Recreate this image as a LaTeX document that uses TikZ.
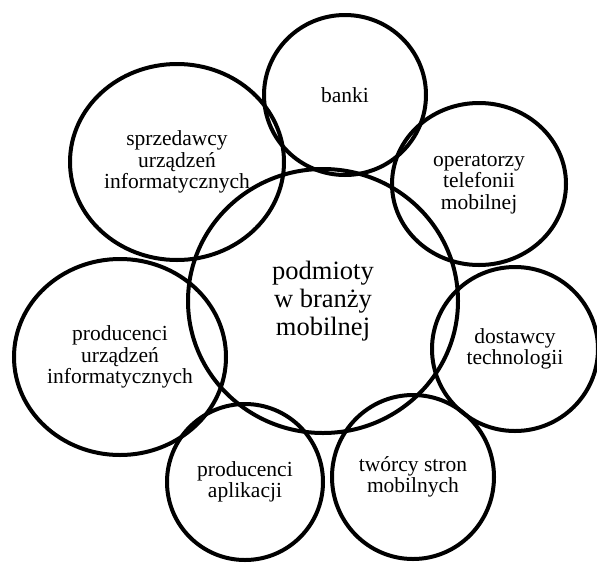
\documentclass[tikz,border=0pt]{standalone}
\usepackage{fontspec}
\setmainfont{Liberation Serif}
\newfontfamily\timesfont{Liberation Serif}
\usepackage{tikz}
\usetikzlibrary{shapes.geometric}
\tikzset{
  ring/.style={draw, ellipse, line width=4pt, inner sep=0pt, align=center,
    font=\timesfont\fontsize{21.5pt}{21.5pt}\selectfont},
}
\begin{document}
\begin{tikzpicture}[x=1pt,y=-1pt]
\useasboundingbox (0,0) rectangle (597,563);
% centre
\node[ring, minimum width=270pt, minimum height=264pt, font=\timesfont\fontsize{26.5pt}{28pt}\selectfont] (podmioty) at (323,301) {podmioty\\w branży\\mobilnej};
% around
\node[ring, minimum width=162pt, minimum height=160pt] (banki) at (345,95) {banki};
\node[ring, minimum width=174pt, minimum height=162pt] (operatorzy) at (479,184) {operatorzy\\telefonii\\mobilnej};
\node[ring, minimum width=166pt, minimum height=164pt] (dostawcy) at (515,349) {dostawcy\\technologii};
\node[ring, minimum width=162pt, minimum height=164pt] (tworcy) at (413,477) {twórcy stron\\mobilnych};
\node[ring, minimum width=156pt, minimum height=156pt] (aplikacje) at (245,482) {producenci\\aplikacji};
\node[ring, minimum width=212pt, minimum height=196pt] (producenci) at (120,357) {producenci\\urządzeń\\informatycznych};
\node[ring, minimum width=214pt, minimum height=196pt] (sprzedawcy) at (177,162) {sprzedawcy\\urządzeń\\informatycznych};
\end{tikzpicture}
\end{document}
